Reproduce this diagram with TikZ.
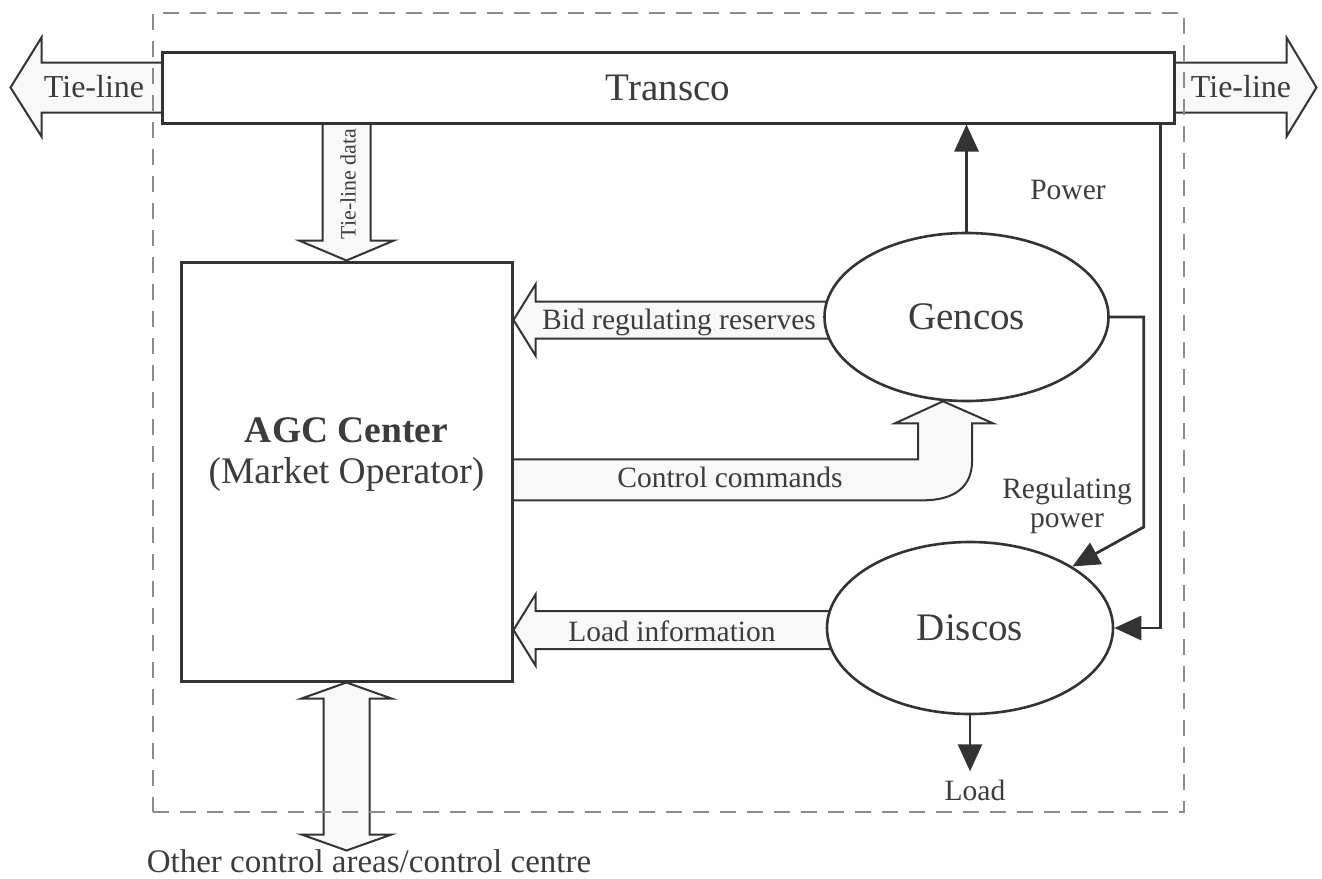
\documentclass[tikz,border=0pt]{standalone}
\usepackage{fontspec}
\setmainfont{Liberation Serif}
\usetikzlibrary{calc,arrows.meta,backgrounds,shapes.geometric}
\definecolor{ink}{HTML}{333333}
\definecolor{txt}{HTML}{3C3C3C}
\definecolor{dashgray}{HTML}{8C8C8C}
\definecolor{hollowfill}{HTML}{F8F8F8}

\begin{document}
\begin{tikzpicture}[x=1pt,y=-1pt,
  box/.style={draw=ink, line width=3pt, fill=white, inner sep=0, rectangle, text=txt},
  party/.style={draw=ink, line width=2.6pt, fill=white, ellipse, inner sep=0, text=txt,
                font=\fontsize{39}{42}\selectfont},
  lbl/.style={text=txt, inner sep=0, font=\fontsize{29.5}{29}\selectfont},
  biglbl/.style={text=txt, inner sep=0, font=\fontsize{37.5}{41}\selectfont},
  hollow/.style={draw=ink, line width=2pt, fill=hollowfill, line join=miter},
  flow/.style={draw=ink, line width=2.8pt, line join=miter, -{Triangle[length=27pt,width=24pt]}},
  area/.style={draw=dashgray, line width=2.4pt, dash pattern=on 16pt off 11pt, rectangle, inner sep=0},
]
\useasboundingbox (0,0) rectangle (1322,878);

% ---- main blocks ----
\node[box, minimum width=1012pt, minimum height=71pt, font=\fontsize{39}{42}\selectfont]
  (transco) at (668,87.5) {Transco};
\node[box, minimum width=331pt, minimum height=419pt] (agc) at (346.5,471.5) {};
\node[biglbl, align=center] (agctext) at (346.5,455) {\textbf{AGC Center}\\(Market Operator)};
\node[party, minimum width=284pt, minimum height=168pt] (gencos) at (966.5,317) {Gencos};
\node[party, minimum width=286pt, minimum height=172pt] (discos) at (970,628) {Discos};

% ---- helper points on block borders ----
\coordinate (bidtip) at ($(agc.east |- gencos.west)+(0,3)$);
\coordinate (loadtip) at ($(agc.east |- discos.west)+(0,2)$);
\coordinate (cctip) at ($(gencos.south)+(-23.5,-1)$);
\coordinate (ccleft) at (agc.east |- cctip);

% ---- block (hollow) arrows, behind the blocks ----
\begin{pgfonlayer}{background}
  % tie-line, left
  \draw[hollow] ($(transco.west)+(10,-25)$) -- ($(transco.west)+(-119,-25)$)
    -- ($(transco.west)+(-119,-50)$) -- ($(transco.west)+(-150,0)$)
    -- ($(transco.west)+(-119,49)$) -- ($(transco.west)+(-119,25)$)
    -- ($(transco.west)+(10,25)$) -- cycle;
  % tie-line, right
  \draw[hollow] ($(transco.east)+(-10,-25)$) -- ($(transco.east)+(111,-25)$)
    -- ($(transco.east)+(111,-50)$) -- ($(transco.east)+(141,0)$)
    -- ($(transco.east)+(111,49)$) -- ($(transco.east)+(111,25)$)
    -- ($(transco.east)+(-10,25)$) -- cycle;
  % tie-line data
  \draw[hollow] ($(agc.north)+(-24,-150)$) -- ($(agc.north)+(-24,-20)$)
    -- ($(agc.north)+(-47.5,-20)$) -- (agc.north)
    -- ($(agc.north)+(47.5,-20)$) -- ($(agc.north)+(24,-20)$)
    -- ($(agc.north)+(24,-150)$) -- cycle;
  % bid regulating reserves
  \draw[hollow] ($(bidtip)+(340,-18.5)$) -- ($(bidtip)+(22,-18.5)$)
    -- ($(bidtip)+(22,-35.5)$) -- (bidtip)
    -- ($(bidtip)+(22,35.5)$) -- ($(bidtip)+(22,18.5)$)
    -- ($(bidtip)+(340,18.5)$) -- cycle;
  % load information
  \draw[hollow] ($(loadtip)+(340,-19)$) -- ($(loadtip)+(22,-19)$)
    -- ($(loadtip)+(22,-35.5)$) -- (loadtip)
    -- ($(loadtip)+(22,35.5)$) -- ($(loadtip)+(22,19)$)
    -- ($(loadtip)+(340,19)$) -- cycle;
  % control commands
  \draw[hollow] ($(ccleft)+(-6,58)$) -- ($(cctip)+(-25,58)$)
    -- ($(cctip)+(-25,22)$) -- ($(cctip)+(-48,22)$) -- (cctip)
    -- ($(cctip)+(50,22)$) -- ($(cctip)+(29,22)$) -- ($(cctip)+(29,60)$)
    .. controls ($(cctip)+(29,85)$) and ($(cctip)+(12,99)$) .. ($(cctip)+(-20,99)$)
    -- ($(ccleft)+(-6,99)$) -- cycle;
  % other control areas (two-way)
  \draw[hollow] (agc.south) -- ($(agc.south)+(45,16)$) -- ($(agc.south)+(23,16)$)
    -- ($(agc.south)+(23,152)$) -- ($(agc.south)+(45,152)$) -- ($(agc.south)+(0,168)$)
    -- ($(agc.south)+(-45,152)$) -- ($(agc.south)+(-23,152)$)
    -- ($(agc.south)+(-23,16)$) -- ($(agc.south)+(-45,16)$) -- cycle;
  % control area boundary
  \node[area, minimum width=1031pt, minimum height=799pt] (areabox) at (668.5,412.5) {};
\end{pgfonlayer}

% ---- power flows ----
\draw[flow] (gencos.north) -- (gencos.north |- transco.south);
\draw[flow] (gencos.east) -- ++(34,0) -- ++(0,210) -- (discos.31);
\draw[flow] ($(transco.south east)+(-15,0)$) |- (discos.east);
\draw[flow] (discos.south) -- ++(0,56) coordinate (loadend);

% ---- labels ----
\node[lbl, font=\fontsize{32}{34}\selectfont] (tiel) at (94,87) {Tie-line};
\node[lbl, font=\fontsize{32}{34}\selectfont] (tier) at (1241,87) {Tie-line};
\node[lbl, rotate=90, font=\fontsize{22}{24}\selectfont] (tiedata) at (348,184) {Tie-line data};
\node[lbl] (bidlbl) at (679,322) {Bid regulating reserves};
\node[lbl] (cclbl) at (730,477) {Control commands};
\node[lbl] (loadinfo) at (672,631) {Load information};
\node[lbl] (powerlbl) at (1068,190) {Power};
\node[lbl, align=center] (reglbl) at (1067,506) {Regulating\\power};
\node[lbl] (loadlbl) at (975,790) {Load};
\node[lbl, font=\fontsize{33}{35}\selectfont, anchor=base, text depth=0pt]
  (otherlbl) at (369,872) {Other control areas/control centre};
\end{tikzpicture}
\end{document}
